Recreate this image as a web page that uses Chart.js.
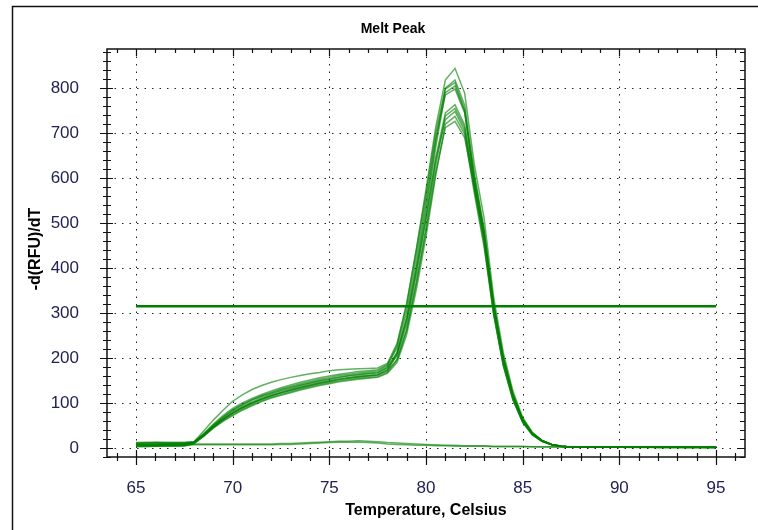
<!DOCTYPE html>
<html>
<head>
<meta charset="utf-8">
<title>Melt Peak</title>
<script src="https://cdn.jsdelivr.net/npm/chart.js@4.4.1/dist/chart.umd.min.js"></script>
<style>
  html, body { margin: 0; padding: 0; background: #fff; }
  canvas { display: block; }
</style>
</head>
<body>
<canvas id="chart" width="758" height="530"></canvas>
<script>
// temperatures, 0.5 C steps
const temps = [
  65, 65.5, 66, 66.5, 67, 67.5, 68, 68.5, 69, 69.5,
  70, 70.5, 71, 71.5, 72, 72.5, 73, 73.5, 74, 74.5,
  75, 75.5, 76, 76.5, 77, 77.5, 78, 78.5, 79, 79.5,
  80, 80.5, 81, 81.5, 82, 82.5, 83, 83.5, 84, 84.5,
  85, 85.5, 86, 86.5, 87, 87.5, 88, 88.5, 89, 89.5,
  90, 90.5, 91, 91.5, 92, 92.5, 93, 93.5, 94, 94.5, 95
];

// -d(RFU)/dT per well
const wellA = [10, 11, 11, 10, 10, 10, 13, 30, 50, 68, 84, 96, 107, 116, 124, 131, 137, 143, 148, 153, 157, 161, 164, 167, 169, 171,
  183, 228, 318, 442, 575, 712, 818, 844, 789, 630, 512, 335, 212, 126, 68, 35, 17, 8, 4, 2,
  2, 2, 2, 2, 2, 2, 2, 2, 1, 1, 1, 1, 1, 1, 1];
const wellB = [6, 6, 7, 7, 7, 8, 12, 28, 47, 64, 78, 90, 100, 109, 117, 124, 130, 136, 141, 146, 150, 154, 157, 160, 162, 164,
  175, 212, 292, 408, 538, 680, 800, 818, 762, 610, 488, 318, 198, 117, 63, 33, 17, 8, 4, 2,
  3, 3, 2, 2, 2, 2, 2, 2, 2, 2, 2, 2, 2, 1, 1];
const wellC = [12, 13, 13, 12, 12, 12, 14, 38, 62, 84, 104, 118, 130, 139, 146, 152, 157, 161, 165, 168, 172, 174, 175, 176, 177, 178,
  188, 232, 322, 440, 565, 700, 798, 812, 752, 588, 462, 298, 182, 106, 57, 29, 15, 7, 4, 2,
  3, 3, 3, 3, 3, 3, 2, 2, 2, 2, 2, 2, 2, 2, 2];
const wellD = [3, 3, 4, 4, 4, 5, 10, 27, 46, 63, 77, 89, 99, 108, 116, 122, 128, 134, 139, 144, 148, 152, 155, 158, 160, 162,
  172, 208, 285, 398, 525, 668, 790, 805, 748, 598, 475, 310, 192, 113, 61, 31, 16, 8, 4, 2,
  2, 2, 2, 2, 2, 1, 1, 1, 1, 1, 1, 1, 1, 1, 1];
const wellE = [8, 8, 8, 9, 9, 9, 12, 29, 49, 66, 81, 93, 103, 112, 120, 127, 133, 139, 144, 149, 153, 157, 160, 163, 165, 167,
  178, 205, 275, 385, 508, 645, 745, 763, 718, 592, 480, 322, 203, 120, 65, 33, 17, 8, 4, 2,
  2, 2, 2, 2, 2, 2, 2, 2, 2, 2, 2, 2, 2, 2, 2];
const wellF = [5, 5, 5, 6, 6, 6, 11, 27, 45, 61, 74, 86, 96, 105, 113, 119, 125, 131, 136, 141, 145, 149, 152, 155, 157, 159,
  168, 196, 262, 368, 490, 628, 738, 755, 712, 575, 455, 300, 186, 109, 58, 30, 15, 8, 4, 2,
  3, 3, 3, 2, 2, 2, 2, 2, 2, 2, 2, 2, 2, 2, 2];
const wellG = [9, 9, 10, 10, 10, 10, 13, 31, 51, 69, 85, 97, 107, 115, 122, 129, 135, 140, 145, 150, 154, 158, 161, 164, 166, 168,
  180, 212, 285, 395, 512, 640, 730, 748, 705, 585, 472, 315, 198, 117, 63, 32, 16, 8, 4, 2,
  2, 2, 2, 2, 2, 2, 2, 2, 1, 1, 1, 1, 1, 1, 1];
const wellH = [4, 4, 4, 5, 5, 5, 10, 26, 44, 59, 72, 84, 94, 103, 111, 117, 123, 129, 134, 139, 143, 147, 150, 153, 155, 157,
  166, 190, 252, 352, 470, 605, 720, 737, 698, 566, 448, 296, 184, 107, 57, 29, 15, 7, 4, 2,
  2, 2, 2, 2, 2, 2, 2, 2, 2, 2, 2, 2, 2, 2, 2];
const wellI = [7, 7, 7, 7, 8, 8, 12, 28, 47, 63, 78, 90, 100, 109, 116, 123, 129, 134, 139, 144, 148, 152, 155, 158, 160, 162,
  172, 196, 262, 365, 482, 612, 712, 726, 690, 578, 465, 312, 196, 116, 62, 31, 15, 7, 3, 2,
  2, 2, 2, 2, 2, 2, 2, 2, 2, 2, 2, 1, 1, 1, 1];
const wellJ = [11, 11, 12, 12, 12, 12, 14, 32, 53, 72, 88, 100, 110, 119, 127, 134, 140, 146, 151, 156, 160, 164, 167, 170, 172, 174,
  185, 222, 305, 425, 552, 688, 785, 798, 745, 604, 485, 320, 200, 119, 64, 33, 16, 8, 4, 2,
  3, 3, 3, 3, 3, 2, 2, 2, 2, 2, 2, 2, 2, 2, 2];
// no-product wells
const wellK = [8, 8, 8, 8, 8, 8, 9, 9, 9, 9, 9, 9, 9, 9, 9, 10, 10, 11, 12, 13, 14, 15, 15, 16, 15, 14,
  12, 11, 10, 9, 8, 7, 6, 6, 5, 5, 5, 4, 4, 4, 4, 3, 3, 3, 3, 3,
  3, 3, 3, 3, 3, 3, 3, 3, 3, 3, 3, 3, 3, 3, 3];
const wellL = [5, 5, 5, 5, 5, 5, 7, 7, 7, 7, 7, 7, 7, 7, 7, 8, 8, 9, 10, 11, 12, 13, 13, 13, 12, 11,
  9, 8, 7, 6, 6, 5, 5, 4, 4, 4, 4, 3, 3, 3, 3, 3, 2, 2, 2, 2,
  2, 2, 2, 2, 2, 2, 2, 2, 2, 2, 2, 2, 2, 2, 2];

const wells = [wellA, wellB, wellC, wellD, wellE, wellF, wellG, wellH, wellI, wellJ, wellK, wellL];

// threshold line
const thresholdX = [65, 95];
const thresholdY = [315, 315];

const xTicks = [65, 70, 75, 80, 85, 90, 95];
const yTicks = [0, 100, 200, 300, 400, 500, 600, 700, 800];

const X_MIN = 63.5, X_MAX = 96.5;
const Y_MIN = -20, Y_MAX = 887;

// axes box, dotted grid, tick marks, titles, outer frame
const framePlugin = {
  id: 'frame',
  beforeDatasetsDraw(chart) {
    const { ctx, chartArea: a, scales: { x, y } } = chart;
    ctx.save();
    ctx.strokeStyle = '#222';
    ctx.lineWidth = 1;
    ctx.setLineDash([1.5, 6]);
    xTicks.forEach(v => {
      const px = Math.round(x.getPixelForValue(v)) + 0.5;
      ctx.beginPath(); ctx.moveTo(px, a.top); ctx.lineTo(px, a.bottom); ctx.stroke();
    });
    yTicks.forEach(v => {
      const py = Math.round(y.getPixelForValue(v)) + 0.5;
      ctx.beginPath(); ctx.moveTo(a.left, py); ctx.lineTo(a.right, py); ctx.stroke();
    });
    ctx.restore();
  },
  afterDraw(chart) {
    const { ctx, chartArea: a, scales: { x, y } } = chart;
    ctx.save();
    ctx.strokeStyle = '#111';
    ctx.lineWidth = 1.5;

    // outer frame (top + left)
    ctx.beginPath();
    ctx.moveTo(758, 6.5); ctx.lineTo(12.5, 6.5); ctx.lineTo(12.5, 530);
    ctx.stroke();

    // axes box
    ctx.strokeRect(a.left, a.top, a.right - a.left, a.bottom - a.top);

    ctx.lineWidth = 1.2;
    ctx.beginPath();
    for (let v = 64; v <= 96; v++) {
      const px = Math.round(x.getPixelForValue(v)) + 0.5;
      const major = v % 5 === 0;
      ctx.moveTo(px, a.bottom - (major ? 7 : 4)); ctx.lineTo(px, a.bottom + (major ? 8 : 4));
      ctx.moveTo(px, a.top); ctx.lineTo(px, a.top + (major ? 7 : 4));
    }
    for (let v = -20; v <= 880; v += 20) {
      const py = Math.round(y.getPixelForValue(v)) + 0.5;
      const major = v % 100 === 0;
      ctx.moveTo(a.left - (major ? 7 : 4), py); ctx.lineTo(a.left + (major ? 6 : 4), py);
      ctx.moveTo(a.right - (major ? 8 : 5), py); ctx.lineTo(a.right, py);
    }
    ctx.stroke();

    ctx.fillStyle = '#000';
    ctx.textAlign = 'center';
    ctx.textBaseline = 'middle';
    ctx.font = 'bold 14px Arial, "Liberation Sans", sans-serif';
    ctx.fillText('Melt Peak', 393, 29);
    ctx.font = 'bold 16px Arial, "Liberation Sans", sans-serif';
    ctx.fillText('Temperature, Celsius', (a.left + a.right) / 2, 511);
    ctx.translate(36, (a.top + a.bottom) / 2 - 4);
    ctx.rotate(-Math.PI / 2);
    ctx.fillText('-d(RFU)/dT', 0, 0);
    ctx.restore();
  }
};

const datasets = [{
  data: thresholdX.map((t, i) => ({ x: t, y: thresholdY[i] })),
  borderColor: '#008000',
  borderWidth: 2.5,
  pointRadius: 0,
  tension: 0
}];
wells.forEach(w => {
  datasets.push({
    data: w.map((v, i) => ({ x: temps[i], y: v })),
    borderColor: 'rgba(0, 128, 0, 0.62)',
    borderWidth: 1.5,
    pointRadius: 0,
    tension: 0
  });
});

const ctx = document.getElementById('chart').getContext('2d');
new Chart(ctx, {
  type: 'line',
  data: { datasets },
  options: {
    responsive: false,
    animation: false,
    layout: { padding: { left: 0, top: 49, right: 13, bottom: 0 } },
    plugins: {
      legend: { display: false },
      title: { display: false },
      tooltip: { enabled: false }
    },
    scales: {
      x: {
        type: 'linear',
        min: X_MIN,
        max: X_MAX,
        afterBuildTicks: s => { s.ticks = xTicks.map(v => ({ value: v })); },
        afterFit: s => { s.height = 73; },
        grid: { display: false },
        border: { display: false },
        ticks: {
          padding: 13,
          color: '#222255',
          font: { family: 'Arial, "Liberation Sans", sans-serif', size: 17 },
          maxRotation: 0
        }
      },
      y: {
        type: 'linear',
        min: Y_MIN,
        max: Y_MAX,
        afterBuildTicks: s => { s.ticks = yTicks.map(v => ({ value: v })); },
        afterFit: s => { s.width = 107; },
        grid: { display: false },
        border: { display: false },
        ticks: {
          padding: 20,
          color: '#222255',
          font: { family: 'Arial, "Liberation Sans", sans-serif', size: 17 }
        }
      }
    }
  },
  plugins: [framePlugin]
});
</script>
</body>
</html>
